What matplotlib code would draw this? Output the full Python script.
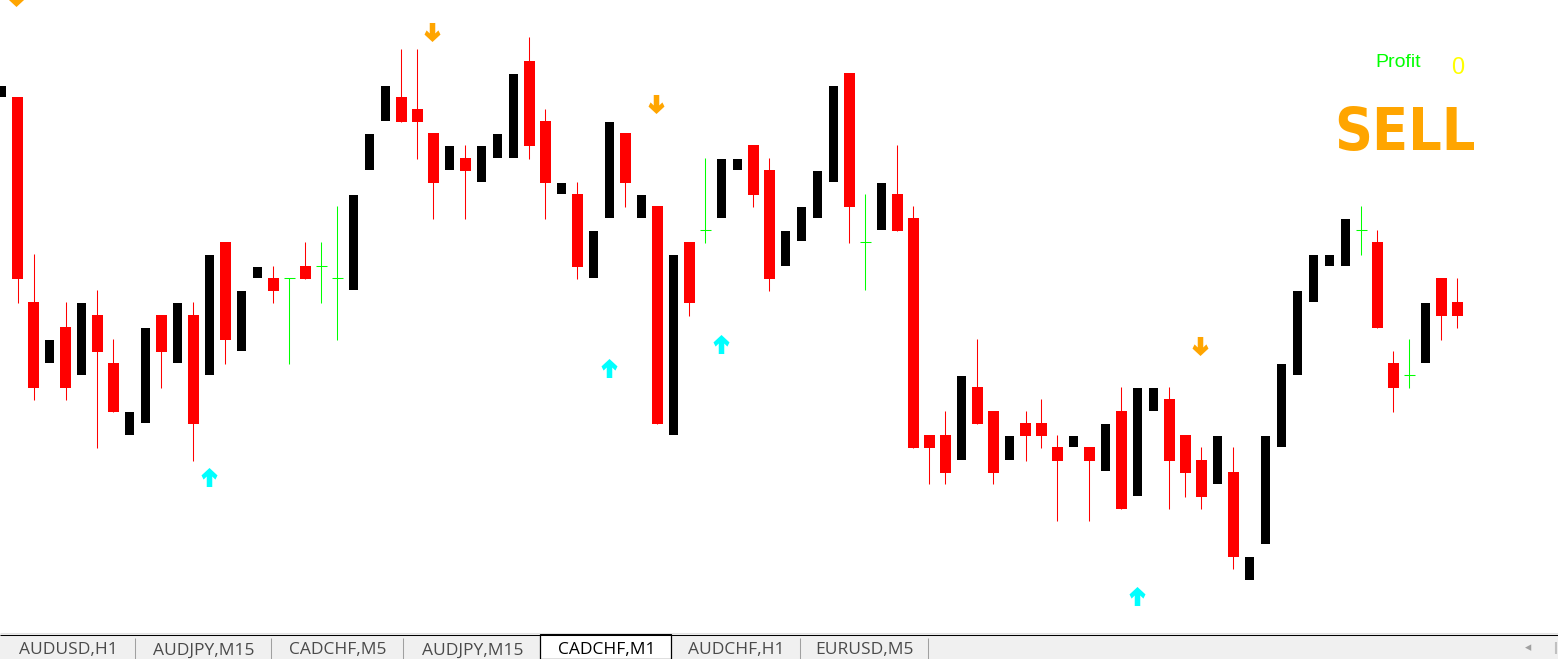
import numpy as np
import matplotlib
matplotlib.use("Agg")
import matplotlib.pyplot as plt
from matplotlib import font_manager
from matplotlib.path import Path
from matplotlib.patches import Rectangle

# CADCHF M1 candles, prices in points (1 point = 0.00001)
opens = [64903, 64903, 64698, 64637, 64673, 64625, 64685, 64637, 64565, 64577,
         64685, 64637, 64685, 64625, 64758, 64649, 64722, 64722, 64722, 64734,
         64734, 64722, 64710, 64830, 64879, 64903, 64891, 64867, 64830, 64842,
         64818, 64842, 64842, 64939, 64879, 64806, 64806, 64722, 64782, 64867,
         64782, 64794, 64565, 64758, 64770, 64782, 64830, 64855, 64830, 64734,
         64759, 64782, 64818, 64927, 64758, 64770, 64806, 64782, 64565, 64565,
         64540, 64613, 64589, 64540, 64577, 64577, 64553, 64553, 64553, 64529,
         64589, 64504, 64589, 64601, 64565, 64540, 64516, 64528, 64420, 64456,
         64553, 64625, 64698, 64734, 64734, 64770, 64758, 64637, 64625, 64637,
         64722, 64698]
highs = [64914, 64903, 64746, 64660, 64698, 64697, 64710, 64661, 64588, 64672,
         64685, 64697, 64698, 64745, 64758, 64709, 64733, 64734, 64722, 64758,
         64758, 64794, 64805, 64866, 64914, 64951, 64951, 64867, 64854, 64855,
         64854, 64866, 64926, 64963, 64891, 64817, 64818, 64769, 64878, 64867,
         64805, 64794, 64745, 64758, 64842, 64841, 64841, 64855, 64842, 64769,
         64793, 64829, 64914, 64927, 64806, 64817, 64855, 64794, 64565, 64589,
         64624, 64661, 64589, 64564, 64589, 64601, 64565, 64564, 64553, 64576,
         64613, 64612, 64612, 64613, 64565, 64553, 64564, 64553, 64443, 64564,
         64636, 64709, 64745, 64745, 64781, 64794, 64770, 64649, 64661, 64697,
         64722, 64722]
lows = [64903, 64697, 64600, 64637, 64600, 64625, 64552, 64588, 64565, 64577,
        64612, 64637, 64539, 64625, 64636, 64649, 64722, 64697, 64636, 64721,
        64697, 64660, 64710, 64830, 64879, 64878, 64841, 64781, 64830, 64781,
        64818, 64842, 64842, 64841, 64781, 64806, 64721, 64722, 64782, 64793,
        64782, 64576, 64565, 64684, 64757, 64782, 64830, 64793, 64709, 64734,
        64759, 64782, 64818, 64757, 64710, 64770, 64769, 64552, 64516, 64516,
        64540, 64576, 64516, 64540, 64539, 64552, 64479, 64553, 64479, 64529,
        64491, 64504, 64589, 64491, 64503, 64491, 64516, 64431, 64420, 64456,
        64553, 64625, 64698, 64734, 64734, 64745, 64672, 64588, 64612, 64637,
        64660, 64672]
closes = [64914, 64721, 64612, 64660, 64612, 64697, 64648, 64588, 64588, 64672,
          64648, 64697, 64576, 64745, 64660, 64709, 64733, 64709, 64722, 64721,
          64734, 64722, 64805, 64866, 64914, 64878, 64878, 64817, 64854, 64829,
          64854, 64866, 64926, 64854, 64817, 64817, 64733, 64769, 64878, 64817,
          64805, 64576, 64745, 64697, 64770, 64841, 64841, 64805, 64721, 64769,
          64793, 64829, 64914, 64793, 64758, 64817, 64769, 64552, 64552, 64527,
          64624, 64576, 64527, 64564, 64564, 64564, 64539, 64564, 64539, 64576,
          64491, 64612, 64612, 64539, 64527, 64503, 64564, 64443, 64443, 64564,
          64636, 64709, 64745, 64745, 64781, 64770, 64672, 64612, 64625, 64697,
          64684, 64684]

# signal arrows: candle index and price level (points)
sell_idx = [1, 27, 41, 75]
sell_lvl = [65003, 64968, 64896, 64654]
buy_idx = [13, 38, 45, 71]
buy_lvl = [64523, 64632, 64656, 64404]

tab_labels = ["AUDUSD,H1", "AUDJPY,M15", "CADCHF,M5", "AUDJPY,M15",
              "CADCHF,M1", "AUDCHF,H1", "EURUSD,M5"]
active_tab = 4
profit_value = 0
signal_text = "SELL"

o = np.array(opens) / 1e5
h = np.array(highs) / 1e5
l = np.array(lows) / 1e5
c = np.array(closes) / 1e5
x = np.arange(len(o))

W, H = 1558, 659
CHART_H = 632
fig = plt.figure(figsize=(W / 100, H / 100), dpi=100)
fig.patch.set_facecolor("white")

ax = fig.add_axes([0, (H - CHART_H) / H, 1, CHART_H / H])
ax.set_axis_off()
# 16 px per candle, first candle centred at x=1.5 px
ax.set_xlim(-1.5 / 16, (W - 1.5) / 16)
ax.set_ylim(0.65000 - CHART_H / 1e5, 0.65000)

bull = c > o
bear = c < o
doji = c == o

RED = "#ff0000"
GREEN = "#00ff00"
px = 1 / 16
lw = 0.75

# bearish candles: red wicks and bodies
ax.vlines(x[bear], l[bear], h[bear], color=RED, lw=lw)
ax.bar(x[bear], (o - c)[bear], bottom=c[bear], width=11 * px, color=RED,
       linewidth=0)
# bullish candles: black bodies (wicks drawn in white, so invisible)
ax.bar(x[bull], (c - o)[bull], bottom=o[bull], width=9 * px, color="black",
       linewidth=0)
# doji: green cross
ax.vlines(x[doji], l[doji], h[doji], color=GREEN, lw=lw)
ax.hlines(c[doji], x[doji] - 5.5 * px, x[doji] + 5.5 * px, color=GREEN, lw=lw)

# MT4 style thick arrow marker
up_verts = [(0, 1), (0.84, 0.22), (0.62, -0.22), (0.29, 0.1), (0.29, -1),
            (-0.29, -1), (-0.29, 0.1), (-0.62, -0.22), (-0.84, 0.22), (0, 1)]
up_arrow = Path(up_verts, closed=True)
down_arrow = Path([(vx, -vy) for vx, vy in up_verts], closed=True)
ax.plot(np.array(sell_idx) - 0.1, np.array(sell_lvl) / 1e5, linestyle="none",
        marker=down_arrow, markersize=13.7, color="#ffa500", mew=0)
ax.plot(np.array(buy_idx) - 0.05, np.array(buy_lvl) / 1e5, linestyle="none",
        marker=up_arrow, markersize=13.7, color="#00ffff", mew=0)

# info labels at top right
fig.text(1375 / W, 1 - 67 / H, "Profit", color=GREEN, fontsize=14,
         family=["Liberation Sans", "DejaVu Sans"], va="baseline")
fig.text(1451 / W, 1 - 74 / H, str(profit_value), color="#ffff00", fontsize=17,
         family=["Liberation Sans", "DejaVu Sans"], va="baseline")

# pick a narrow face for the big signal word if one is installed
narrow = None
for f in font_manager.fontManager.ttflist:
    if f.stretch in ("condensed", "semi-condensed", "extra-condensed") or \
            "Narrow" in f.name or "Condensed" in f.name:
        narrow = f
        break
if narrow is not None:
    sell_font = font_manager.FontProperties(fname=narrow.fname, size=50)
else:
    sell_font = font_manager.FontProperties(family="DejaVu Sans", size=50)
sell = fig.text(1334 / W, 1 - 150 / H, signal_text, color="#ffa500",
                fontproperties=sell_font, va="baseline")
# shrink the word so it spans about 140 px, like the reference
r = fig.canvas.get_renderer()
wpx = sell.get_window_extent(r).width
if wpx > 142:
    sell.set_fontsize(50 * 142 / wpx)

# tab bar at the bottom
tb = fig.add_axes([0, 0, 1, (H - CHART_H) / H])
tb.set_axis_off()
tb.set_xlim(0, W)
tb.set_ylim(H, CHART_H)
tb.add_patch(Rectangle((0, 634), W, H - 634, color="#f0f0f0", lw=0))
tb.hlines(632.5, 0, W, color="#e3e3e3", lw=0.75)
tb.hlines(634.5, 0, W, color="black", lw=0.75)
edges = [0, 135, 271, 403, 540, 671, 800, 928]
for k, lab in enumerate(tab_labels):
    x0, x1 = edges[k], edges[k + 1]
    if k == active_tab:
        tb.add_patch(Rectangle((x0, 634), x1 - x0, H - 634, facecolor="white",
                               edgecolor="black", lw=0.9))
        col = "black"
    else:
        col = "#4a4a4a"
    tb.text((x0 + x1) / 2 + 1, 650.5, lab, color=col, fontsize=12.5,
            family=["Open Sans", "DejaVu Sans"], ha="center", va="center")
for e in edges[1:]:
    if e in (edges[active_tab], edges[active_tab + 1]):
        continue
    tb.vlines(e, 638, H, color="#a0a0a0", lw=0.75)
tb.text(1528, 648, "\u25c2", color="#a0a0a0", fontsize=9, ha="center",
        va="center", family=["DejaVu Sans"])
tb.vlines(1556, 642, 654, color="#c0c0c0", lw=1.5)

fig.savefig("out.png", dpi=100)
